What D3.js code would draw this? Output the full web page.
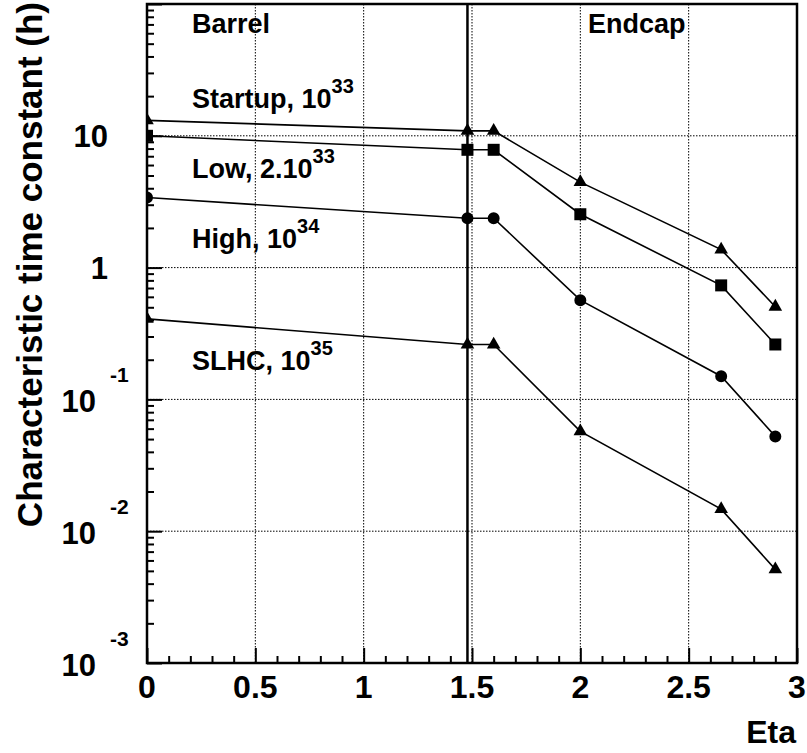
<!DOCTYPE html>
<html>
<head>
<meta charset="utf-8">
<script src="https://cdn.jsdelivr.net/npm/d3@7"></script>
<style>
  html, body { margin: 0; padding: 0; background: #fff; }
  svg text { font-family: "Liberation Sans", Arial, Helvetica, sans-serif; font-weight: bold; fill: #000; }
</style>
</head>
<body>
<svg id="chart" width="807" height="753"></svg>
<script>
// ---- data ----
const eta = [0, 1.479, 1.6, 2.0, 2.65, 2.9];
const startup = [13.1, 10.9, 10.9, 4.45, 1.37, 0.505];
const low     = [10.0, 7.83, 7.83, 2.54, 0.733, 0.261];
const high    = [3.40, 2.37, 2.37, 0.566, 0.150, 0.0524];
const slhc    = [0.408, 0.261, 0.261, 0.0572, 0.0147, 0.00513];
const seriesLabelMain = ["Startup, 10", "Low, 2.10", "High, 10", "SLHC, 10"];
const seriesLabelSup  = ["33", "33", "34", "35"];
const xTicks = [0, 0.5, 1, 1.5, 2, 2.5, 3];
const xTickLabels = ["0", "0.5", "1", "1.5", "2", "2.5", "3"];
const yDecades = [1e-3, 1e-2, 1e-1, 1, 10];
const yDecadeLabels = [["10", "-3"], ["10", "-2"], ["10", "-1"], ["1", ""], ["10", ""]];
const barrelEndcapEta = 1.479;

// ---- layout ----
const svg = d3.select("#chart");
const L = 147, R = 797, T = 4, B = 663;
const x = d3.scaleLinear().domain([0, 3]).range([L, R]);
const y = d3.scaleLog().domain([1e-3, 1e2]).range([B, T]);

// clip
svg.append("defs").append("clipPath").attr("id", "plotclip")
  .append("rect").attr("x", L).attr("y", T).attr("width", R - L).attr("height", B - T);

// grid
const grid = svg.append("g").attr("stroke", "#000").attr("stroke-width", 1).attr("stroke-dasharray", "1.5,1.5");
[0.5, 1, 1.5, 2, 2.5].forEach(v => {
  grid.append("line").attr("x1", x(v)).attr("x2", x(v)).attr("y1", T).attr("y2", B);
});
[1e-2, 1e-1, 1, 10].forEach(v => {
  grid.append("line").attr("x1", L).attr("x2", R).attr("y1", y(v)).attr("y2", y(v));
});

// x axis ticks (inside)
const xMinor = d3.range(0, 3.0001, 0.1).filter(v => Math.abs(v * 2 - Math.round(v * 2)) > 1e-6);
svg.append("g").attr("transform", `translate(0,${B})`)
  .call(d3.axisBottom(x).tickValues(xTicks).tickSizeInner(-15).tickSizeOuter(0).tickFormat(""))
  .call(g => g.select(".domain").remove())
  .call(g => g.selectAll("line").attr("stroke", "#000").attr("stroke-width", 2));
svg.append("g").attr("transform", `translate(0,${B})`)
  .call(d3.axisBottom(x).tickValues(xMinor).tickSizeInner(-7).tickSizeOuter(0).tickFormat(""))
  .call(g => g.select(".domain").remove())
  .call(g => g.selectAll("line").attr("stroke", "#000").attr("stroke-width", 2));

// y axis ticks (inside)
const yMinor = [];
yDecades.forEach(d => { for (let k = 2; k <= 9; k++) yMinor.push(d * k); });
svg.append("g").attr("transform", `translate(${L},0)`)
  .call(d3.axisLeft(y).tickValues(yDecades.concat([100])).tickSizeInner(-15).tickSizeOuter(0).tickFormat(""))
  .call(g => g.select(".domain").remove())
  .call(g => g.selectAll("line").attr("stroke", "#000").attr("stroke-width", 2));
svg.append("g").attr("transform", `translate(${L},0)`)
  .call(d3.axisLeft(y).tickValues(yMinor).tickSizeInner(-7).tickSizeOuter(0).tickFormat(""))
  .call(g => g.select(".domain").remove())
  .call(g => g.selectAll("line").attr("stroke", "#000").attr("stroke-width", 2));

// x tick labels
svg.append("g").selectAll("text").data(xTicks).join("text")
  .attr("x", d => x(d)).attr("y", 698).attr("text-anchor", "middle")
  .attr("font-size", 32).text((d, i) => xTickLabels[i]);

// y tick labels
yDecades.forEach((d, i) => {
  const [base, ex] = yDecadeLabels[i];
  if (ex === "") {
    svg.append("text").attr("x", 108).attr("y", y(d) + 11.5).attr("text-anchor", "end")
      .attr("font-size", 31).text(base);
  } else {
    svg.append("text").attr("x", 96).attr("y", y(d) + 12.5).attr("text-anchor", "end")
      .attr("font-size", 31).text(base);
    svg.append("text").attr("x", 110).attr("y", y(d) - 17).attr("text-anchor", "start")
      .attr("font-size", 21).text(ex);
  }
});

// axis titles
svg.append("text").attr("transform", "translate(42,2) rotate(-90)")
  .attr("text-anchor", "end").attr("font-size", 35).text("Characteristic time constant (h)");
svg.append("text").attr("x", 796).attr("y", 743).attr("text-anchor", "end")
  .attr("font-size", 32).text("Eta");

// region labels
svg.append("text").attr("x", 192).attr("y", 33).attr("font-size", 27).text("Barrel");
svg.append("text").attr("x", 588).attr("y", 33).attr("font-size", 27).text("Endcap");

// series labels
const labelBaselines = [107.5, 177.5, 248, 370];
seriesLabelMain.forEach((m, i) => {
  const t = svg.append("text").attr("x", 192).attr("y", labelBaselines[i]).attr("font-size", 27);
  t.append("tspan").text(m);
  t.append("tspan").attr("dy", -15).attr("font-size", 20).text(seriesLabelSup[i]);
});

// series
const allSeries = [
  {vals: startup, sym: d3.symbolTriangle, size: 80},
  {vals: low,     sym: d3.symbolSquare,   size: 144},
  {vals: high,    sym: d3.symbolCircle,   size: 113},
  {vals: slhc,    sym: d3.symbolTriangle, size: 80}
];
const plot = svg.append("g").attr("clip-path", "url(#plotclip)");
const line = d3.line().x(d => x(d[0])).y(d => y(d[1]));
allSeries.forEach(s => {
  const pts = eta.map((e, i) => [e, s.vals[i]]);
  plot.append("path").attr("d", line(pts)).attr("fill", "none")
    .attr("stroke", "#000").attr("stroke-width", 1.6);
  plot.selectAll(null).data(pts).join("path")
    .attr("transform", d => `translate(${x(d[0])},${y(d[1])})`)
    .attr("d", d3.symbol().type(s.sym).size(s.size))
    .attr("fill", "#000");
});

// barrel/endcap boundary
svg.append("line").attr("x1", x(barrelEndcapEta)).attr("x2", x(barrelEndcapEta))
  .attr("y1", T).attr("y2", B).attr("stroke", "#000").attr("stroke-width", 2.5);

// frame
svg.append("rect").attr("x", L).attr("y", T).attr("width", R - L).attr("height", B - T)
  .attr("fill", "none").attr("stroke", "#000").attr("stroke-width", 2.5);
</script>
</body>
</html>
